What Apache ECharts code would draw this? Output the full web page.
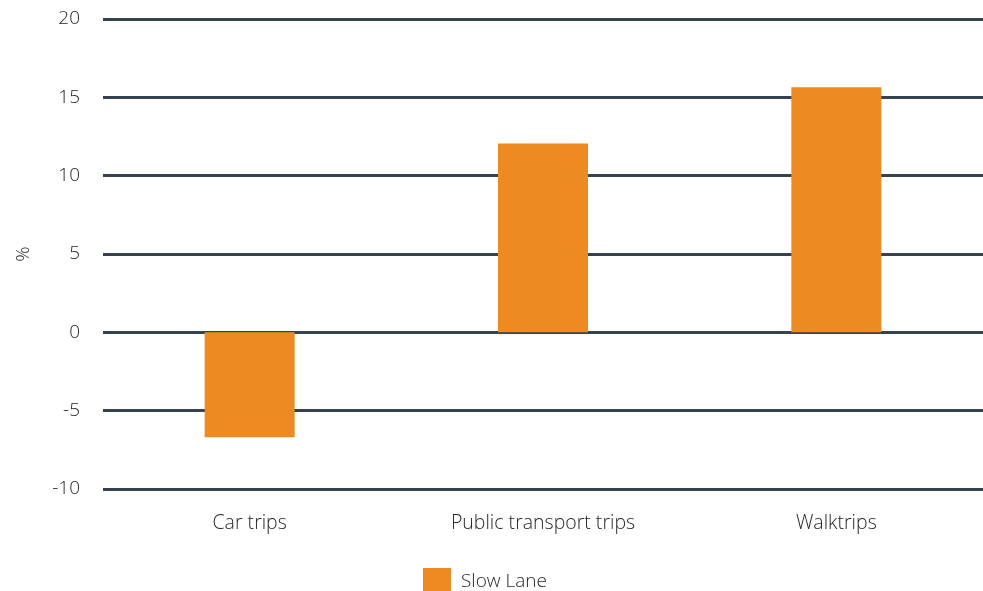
<!DOCTYPE html>
<html>
<head>
<meta charset="utf-8">
<script src="https://cdn.jsdelivr.net/npm/echarts@6/dist/echarts.min.js"></script>
<style>
html, body { margin: 0; padding: 0; background: #fff; }
#chart { width: 983px; height: 591px; }
</style>
</head>
<body>
<div id="chart"></div>
<script>
// 类别和数值
let categories = ['Car trips', 'Public transport trips', 'Walktrips'];
let slowLane = [-6.7, 12.05, 15.65];
let seriesName = 'Slow Lane';

let textColor = '#262626';
let gridColor = '#36434f';
let barColor = '#ee8a22';
let fontName = '"Open Sans", "Noto Sans", sans-serif';

let chart = echarts.init(document.getElementById('chart'));

let option = {
	animation: false,
	grid: {
		left: 103,
		right: -6,
		top: 19,
		bottom: 102
	},
	legend: {
		data: [seriesName],
		icon: 'rect',
		left: 418,
		top: 563,
		itemWidth: 28,
		itemHeight: 28,
		itemGap: 10,
		textStyle: {
			color: textColor,
			fontSize: 19,
			fontFamily: fontName,
			fontWeight: 300,
			padding: [0, 0, 0, 5]
		}
	},
	xAxis: {
		type: 'category',
		data: categories,
		axisLine: { show: false },
		axisTick: { show: false },
		axisLabel: {
			color: textColor,
			fontSize: 19.5,
			fontFamily: fontName,
			fontWeight: 300,
			margin: 24
		}
	},
	yAxis: {
		type: 'value',
		min: -10,
		max: 20,
		interval: 5,
		name: '%',
		nameLocation: 'middle',
		nameGap: 70,
		nameTextStyle: {
			color: textColor,
			fontSize: 19,
			fontFamily: fontName,
			fontWeight: 300
		},
		axisLine: { show: false },
		axisTick: { show: false },
		axisLabel: {
			color: textColor,
			fontSize: 19,
			fontFamily: fontName,
			fontWeight: 300,
			margin: 23
		},
		splitLine: {
			lineStyle: { color: gridColor, width: 3 }
		}
	},
	series: [{
		name: seriesName,
		type: 'bar',
		data: slowLane,
		barWidth: 90,
		itemStyle: { color: barColor }
	}]
};

chart.setOption(option);
</script>
</body>
</html>
